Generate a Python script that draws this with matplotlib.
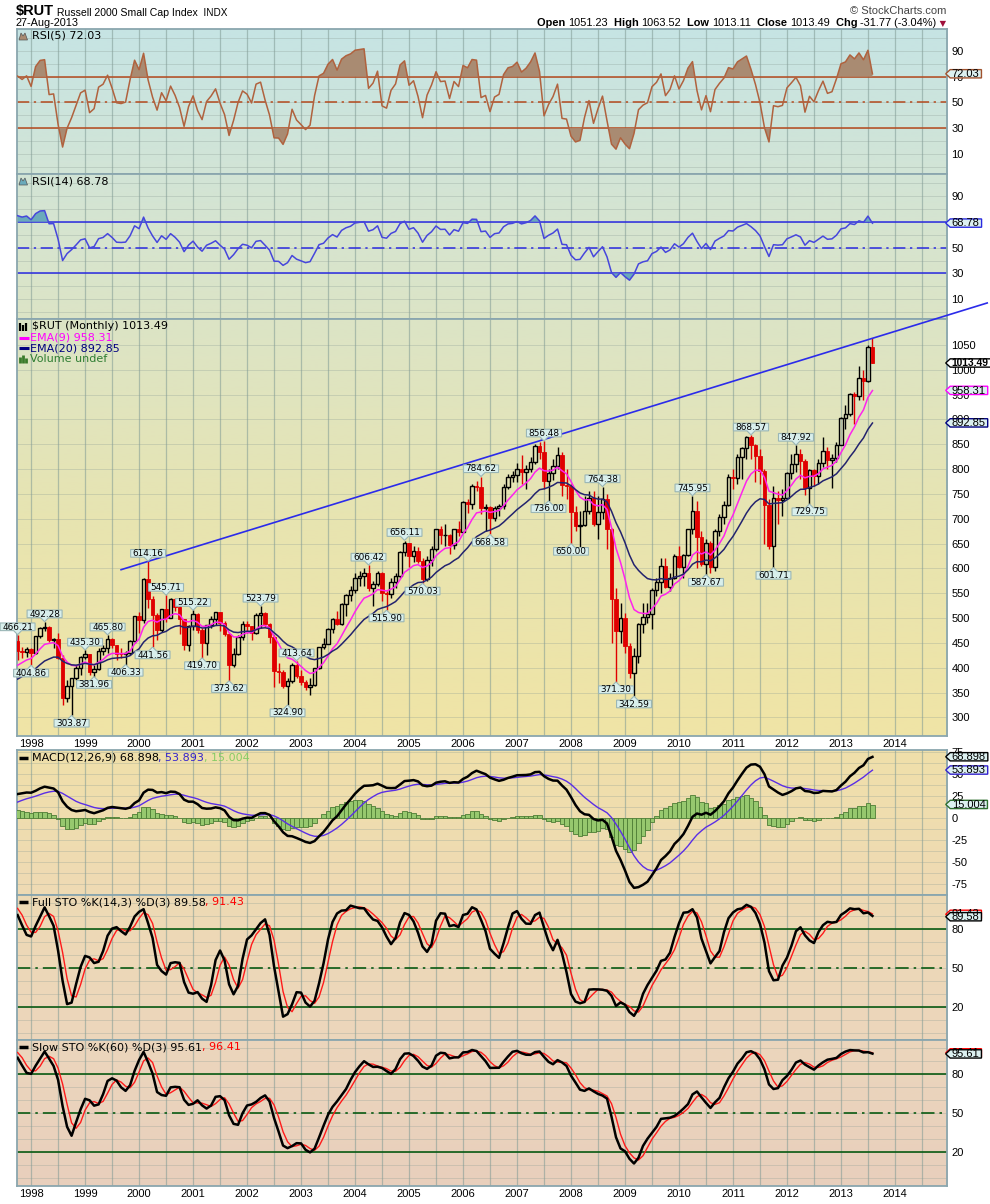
import numpy as np
import pandas as pd
import matplotlib
matplotlib.use("Agg")
import matplotlib.pyplot as plt
from matplotlib.path import Path
from matplotlib.patches import Polygon
from matplotlib.transforms import Affine2D, blended_transform_factory, offset_copy

W, H = 990, 1204

# $RUT monthly bars, Jan 1996 .. Aug 2013 (1996 - Sep 1997 only warms up the indicators)
first_month = "1996-01"
shown_from = "1997-10"

closes = [
    315.38, 325.19, 331.77, 349.49, 363.21, 348.28, 317.95, 336.53, 346.39, 340.57, 354.11, 362.61,  # 1996
    369.46, 359.66, 342.56, 343.00, 381.13, 396.37, 414.48, 423.43, 453.82, 434.04, 431.26, 437.02,  # 1997
    430.05, 463.03, 480.68, 482.89, 456.62, 457.39, 419.75, 337.95, 363.59, 379.23, 399.07, 421.96,  # 1998
    427.22, 392.26, 397.63, 432.81, 438.68, 457.68, 444.77, 428.19, 427.30, 428.64, 454.08, 504.75,  # 1999
    496.23, 577.71, 539.09, 506.25, 476.18, 517.23, 500.64, 537.89, 521.37, 497.68, 445.94, 483.53,  # 2000
    508.34, 475.31, 450.53, 485.32, 497.25, 512.64, 490.00, 468.56, 404.87, 428.17, 461.78, 488.50,  # 2001
    483.10, 469.36, 506.46, 511.03, 488.15, 462.64, 392.42, 391.42, 362.27, 373.88, 406.35, 383.09,  # 2002
    372.17, 360.52, 364.54, 398.68, 441.00, 448.37, 477.61, 497.41, 487.68, 528.22, 546.51, 556.91,  # 2003
    580.76, 585.56, 590.31, 559.80, 568.28, 591.52, 551.29, 547.93, 572.94, 583.79, 633.77, 651.57,  # 2004
    624.02, 634.06, 615.07, 579.38, 616.71, 639.66, 679.75, 666.51, 667.80, 646.61, 679.05, 673.22,  # 2005
    733.20, 730.64, 765.14, 764.54, 721.01, 724.67, 700.56, 721.55, 725.59, 763.69, 783.72, 787.66,  # 2006
    800.34, 793.30, 800.71, 814.57, 847.19, 833.69, 776.13, 792.86, 805.45, 828.02, 767.77, 766.03,  # 2007
    713.30, 686.18, 687.97, 714.99, 741.19, 689.66, 714.52, 739.50, 679.58, 537.52, 473.14, 499.45,  # 2008
    443.53, 389.02, 422.75, 487.56, 501.58, 508.28, 556.71, 572.07, 604.28, 562.77, 579.73, 625.39,  # 2009
    602.04, 627.56, 678.64, 716.60, 662.55, 609.49, 650.89, 602.06, 676.14, 703.35, 727.01, 783.65,  # 2010
    781.28, 823.45, 843.55, 865.29, 848.30, 827.43, 797.03, 726.81, 644.16, 741.06, 737.42, 740.92,  # 2011
    792.82, 810.94, 830.30, 816.88, 761.82, 798.49, 786.94, 812.09, 837.45, 818.73, 821.92, 849.35,  # 2012
    902.09, 911.11, 951.54, 947.46, 984.14, 977.48, 1045.26, 1013.49,                                # 2013
]
highs = [
    316, 330, 334, 352, 364, 364, 350, 338, 347, 347, 355, 364,
    371, 372, 364, 345, 382, 397, 415, 427, 454, 466.21, 441, 441,
    440, 464, 482, 492.28, 484, 460, 470, 425, 376, 380, 405, 423,
    435.30, 428, 405, 440, 445, 465.80, 460, 446, 440, 433, 455, 505,
    512, 580, 614.16, 545, 510, 518, 545.71, 540, 541, 525, 499, 485,
    515.22, 510, 480, 487, 505, 513, 513, 495, 470, 440, 465, 495,
    495, 484, 510, 523.79, 512, 490, 465, 410, 395, 380, 410, 413.64,
    395, 375, 380, 400, 442, 460, 480, 500, 515, 530, 548, 565,
    590, 595, 600, 606.42, 575, 595, 592, 555, 580, 590, 635, 656.11,
    652, 645, 644, 620, 625, 645, 680, 685, 690, 670, 680, 695,
    735, 740, 770, 777, 784.62, 730, 725, 725, 730, 770, 790, 797,
    812, 828, 808, 825, 850, 855, 856.48, 800, 820, 845, 835, 800,
    770, 725, 715, 745, 755, 755, 745, 764.38, 750, 682, 560, 530,
    510, 450, 440, 490, 530, 530, 560, 580, 620, 620, 590, 630,
    645, 630, 680, 745.95, 735, 675, 660, 655, 680, 710, 735, 790,
    800, 830, 845, 866, 868.57, 850, 840, 800, 740, 765, 755, 760,
    795, 830, 847.92, 840, 820, 800, 800, 820, 865, 845, 830, 855,
    905, 930, 953, 955, 1008, 1000, 1050, 1063.52,
]
lows = [
    296, 313, 321, 330, 347, 346, 307, 317, 332, 336, 339, 347,
    359, 356, 341, 335, 342, 378, 394, 411, 423, 416, 420, 421,
    404.86, 428, 459, 473, 452, 439, 418, 325, 330, 303.87, 376, 385,
    417, 386, 381.96, 396, 425, 430, 440, 415, 420, 406.33, 425, 450,
    470, 491, 520, 441.56, 455, 472, 493, 500, 515, 468, 435, 434,
    475, 470, 419.70, 425, 480, 485, 474, 464, 373.62, 402, 425, 455,
    469, 455, 467, 480, 482, 450, 362, 370, 360, 324.90, 370, 380,
    365, 355, 345, 363, 397, 438, 448, 470, 485, 486, 505, 535,
    550, 565, 565, 555, 525, 565, 535, 515.90, 540, 560, 580, 625,
    602, 612, 610, 570.03, 575, 605, 635, 650, 645, 630, 640, 665,
    673, 712, 720, 755, 710, 675, 668.58, 695, 705, 720, 760, 775,
    775, 770, 760, 795, 810, 820, 760, 736.00, 778, 800, 745, 740,
    650.00, 675, 643, 685, 710, 685, 660, 700, 640, 450, 371.30, 450,
    430, 380, 342.59, 410, 470, 490, 478, 545, 550, 560, 555, 578,
    600, 580, 625, 670, 600, 605, 587.67, 590, 595, 665, 690, 725,
    760, 770, 780, 820, 820, 775, 770, 650, 640, 601.71, 690, 705,
    740, 780, 795, 780, 748, 729.75, 765, 770, 805, 800, 762, 815,
    849, 880, 908, 890, 940, 940, 976, 1013.11,
]

# swing labels on the price panel
hi_labels = ["1997-10", "1998-04", "1999-01", "1999-06", "2000-03", "2000-07", "2001-01",
             "2002-04", "2002-12", "2004-04", "2004-12", "2006-05", "2007-07", "2008-08",
             "2010-04", "2011-05", "2012-03"]
lo_labels = ["1998-01", "1998-10", "1999-03", "1999-10", "2000-04", "2001-03", "2001-09",
             "2002-10", "2004-08", "2005-04", "2006-07", "2007-08", "2008-01", "2008-11",
             "2009-03", "2010-07", "2011-10", "2012-06"]
trend_start, trend_touch, trend_end = "1999-09", "2000-03", "2013-08"
trend_extend = 25.5  # months drawn past the last bar

quote = [("Open", "1051.23"), ("High", "1063.52"), ("Low", "1013.11"),
         ("Close", "1013.49"), ("Chg", "-31.77 (-3.04%)")]
last_rsi5, last_rsi14 = "72.03", "68.78"
last_close, last_ema9, last_ema20 = "1013.49", "958.31", "892.85"
last_macd, last_signal, last_hist = "68.898", "53.893", "15.004"
last_fk, last_fd = "89.58", "91.43"
last_sk, last_sd = "95.61", "96.41"
years = list(range(1998, 2015))

# background gradient of the chart, top to bottom (pixel row, rgb)
grad_y = [29, 174, 319, 530, 736, 750, 895, 1040, 1186]
grad_rgb = np.array([(198, 228, 228), (210, 228, 214), (220, 228, 198), (232, 228, 176),
                     (240, 228, 166), (240, 224, 170), (238, 218, 180), (236, 214, 188),
                     (232, 207, 188)], dtype=float)

# ---------------------------------------------------------------- indicators
n = len(closes)
months = pd.period_range(first_month, periods=n, freq="M")
x = np.asarray((months.year - 1998) * 12 + months.month - 1, dtype=float)
c = pd.Series(closes, dtype=float)
hi = pd.Series(highs, dtype=float)
lo = pd.Series(lows, dtype=float)
o = c.shift(1).fillna(c.iloc[0])


def month_idx(m):
    return months.get_loc(pd.Period(m, "M"))


def rsi(s, k):
    d = s.diff()
    gain = d.clip(lower=0).ewm(alpha=1 / k, adjust=False).mean()
    loss = (-d.clip(upper=0)).ewm(alpha=1 / k, adjust=False).mean()
    return 100 - 100 / (1 + gain / loss)


def stoch_raw(k):
    hh = hi.rolling(k, min_periods=1).max()
    ll = lo.rolling(k, min_periods=1).min()
    return 100 * (c - ll) / (hh - ll)


ema9 = c.ewm(span=9, adjust=False).mean()
ema20 = c.ewm(span=20, adjust=False).mean()
rsi5, rsi14 = rsi(c, 5), rsi(c, 14)
macd = c.ewm(span=12, adjust=False).mean() - c.ewm(span=26, adjust=False).mean()
signal = macd.ewm(span=9, adjust=False).mean()
hist = macd - signal
full_k = stoch_raw(14).rolling(3, min_periods=1).mean()
full_d = full_k.rolling(3, min_periods=1).mean()
slow_k = stoch_raw(60).rolling(3, min_periods=1).mean()
slow_d = slow_k.rolling(3, min_periods=1).mean()

show = np.arange(n) >= month_idx(shown_from)
xs = x[show]


def sv(s):
    return np.asarray(s, dtype=float)[show]


# ---------------------------------------------------------------- figure
fig = plt.figure(figsize=(W / 100, H / 100), dpi=100)
fig.patch.set_facecolor("white")
px = Affine2D().scale(1 / W, -1 / H).translate(0, 1) + fig.transFigure
LEFT, RIGHT = 16.7, 946.7
XMIN, XMAX = -3.2, 203.5


def panel(top, bot, ylim, yticks, ygrid, xlabels=False):
    ax = fig.add_axes([LEFT / W, 1 - bot / H, (RIGHT - LEFT) / W, (bot - top) / H])
    rows = np.linspace(top, bot, 96)
    rgb = np.stack([np.interp(rows, grad_y, grad_rgb[:, k]) for k in range(3)], axis=1) / 255
    ax.imshow(rgb[:, None, :], extent=(0, 1, 0, 1), transform=ax.transAxes,
              aspect="auto", interpolation="bilinear", zorder=0)
    ax.set_xlim(XMIN, XMAX)
    ax.set_ylim(*ylim)
    ax.set_xticks(np.arange(0, 193, 12))
    ax.set_xticks(np.arange(6, 199, 12), minor=True)
    ax.set_xticklabels([str(y) for y in years] if xlabels else [])
    ax.set_yticks(yticks)
    ax.set_yticklabels([f"{t:g}" for t in yticks])
    ax.set_yticks(ygrid, minor=True)
    ax.set_axisbelow(True)
    ax.grid(axis="x", which="both", color="#7f9a94", alpha=0.55, lw=0.9)
    ax.grid(axis="y", which="both", color="#8a9c94", alpha=0.3, lw=0.7)
    ax.tick_params(which="both", length=0, left=False, labelleft=False,
                   labelright=True, labelsize=8, pad=3.3, labelfontfamily="Liberation Sans")
    ax.tick_params(axis="x", labelbottom=xlabels, pad=2.5, labelsize=8)
    for sp in ax.spines.values():
        sp.set_color("#8aa6ae")
        sp.set_linewidth(1.3)
    return ax


def tag_box(x0, y0, width, height, mutation_size):
    left, right = x0 - 1.5, x0 + width + 2
    bot, top = y0 + 0.1 * height, y0 + 0.93 * height
    return Path([(left, bot), (right, bot), (right, top), (left, top),
                 (left - 4.5, (bot + top) / 2), (left, bot)], closed=True)


def tag(ax, text, ec, fc="#dcf0f0", bold=False):
    tr = offset_copy(blended_transform_factory(ax.transAxes, ax.transData),
                     fig=fig, x=5, y=0, units="dots")
    ax.text(1, float(text), text, transform=tr, ha="left", va="center",
            fontsize=7.4 if bold else 8, family="Liberation Sans",
            fontweight="bold" if bold else "normal",
            clip_on=False, zorder=12, bbox=dict(boxstyle=tag_box, fc=fc, ec=ec, lw=1))


def label_box(down):
    def f(x0, y0, width, height, mutation_size):
        l, r = x0 - 2, x0 + width + 2
        b, t = y0 + 0.1 * height, y0 + 0.95 * height
        cx = (l + r) / 2
        if down:
            v = [(l, b), (cx - 4, b), (cx, b - 4), (cx + 4, b), (r, b), (r, t), (l, t)]
        else:
            v = [(l, b), (r, b), (r, t), (cx + 4, t), (cx, t + 4), (cx - 4, t), (l, t)]
        return Path(v + [v[0]], closed=True)
    return f


def level_lines(ax, levels, color, lw=1.1):
    for lv, ls in levels:
        ax.axhline(lv, color=color, lw=lw, ls=ls, zorder=2)


# ---------------------------------------------------------------- RSI(5)
ax1 = panel(29.3, 174, (-5.5, 106.6), [10, 30, 50, 70, 90], np.arange(0, 101, 10))
level_lines(ax1, [(70, "-"), (30, "-"), (50, (0, (8, 3, 1.5, 3)))], "#b44a1e")
r5 = sv(rsi5)
ax1.fill_between(xs, r5, 70, where=r5 >= 70, interpolate=True, color="#a98b72", lw=0, zorder=3)
ax1.fill_between(xs, r5, 30, where=r5 <= 30, interpolate=True, color="#a98b72", lw=0, zorder=3)
ax1.plot(xs, r5, color="#b0623e", lw=1.1, zorder=4)
tag(ax1, last_rsi5, "#a0522d")

# ---------------------------------------------------------------- RSI(14)
ax2 = panel(174, 319.3, (-5.4, 106.8), [10, 30, 50, 70, 90], np.arange(0, 101, 10))
level_lines(ax2, [(70, "-"), (30, "-"), (50, (0, (8, 3, 1.5, 3)))], "#2a2ae0")
r14 = sv(rsi14)
ax2.fill_between(xs, r14, 70, where=r14 >= 70, interpolate=True, color="#6aaabb", lw=0, zorder=3)
ax2.fill_between(xs, r14, 30, where=r14 <= 30, interpolate=True, color="#6aaabb", lw=0, zorder=3)
ax2.plot(xs, r14, color="#4646dc", lw=1.1, zorder=4)
tag(ax2, last_rsi14, "#2a2ae0")

# ---------------------------------------------------------------- price
ax3 = panel(319.3, 735.7, (263, 1101.8), np.arange(300, 1051, 50), np.arange(300, 1051, 50), xlabels=True)
oo, cc, hh, ll = sv(o), sv(c), sv(hi), sv(lo)
up = cc >= oo
b_lo, b_hi = np.minimum(oo, cc), np.maximum(oo, cc)
ax3.vlines(xs[up], b_hi[up], hh[up], color="black", lw=1, zorder=4)
ax3.vlines(xs[up], ll[up], b_lo[up], color="black", lw=1, zorder=4)
ax3.bar(xs[up], (b_hi - b_lo)[up], bottom=b_lo[up], width=0.72, facecolor="none",
        edgecolor="black", lw=1, zorder=5)
ax3.vlines(xs[~up], ll[~up], hh[~up], color="#e00000", lw=1, zorder=4)
ax3.bar(xs[~up], (b_hi - b_lo)[~up], bottom=b_lo[~up], width=0.72, color="#e00000",
        edgecolor="#e00000", lw=0.6, zorder=5)
ax3.plot(xs, sv(ema9), color="#ff22ee", lw=1.1, zorder=6)
ax3.plot(xs, sv(ema20), color="#23236e", lw=1.1, zorder=6)

i0, i1 = month_idx(trend_touch), month_idx(trend_end)
slope = (highs[i1] - highs[i0]) / (x[i1] - x[i0])
tx = np.array([x[month_idx(trend_start)], x[i1] + trend_extend])
ax3.plot(tx, highs[i0] + slope * (tx - x[i0]), color="#2b2bea", lw=1.2, zorder=7, clip_on=False)

for m in hi_labels:
    i = month_idx(m)
    ax3.annotate(f"{highs[i]:.2f}", xy=(x[i], highs[i]), xytext=(0, 3.3), textcoords="offset pixels",
                 ha="center", va="bottom", fontsize=6.4, zorder=9, annotation_clip=False,
                 bbox=dict(boxstyle=label_box(True), fc="#d9efec", ec="#9ab6b6", lw=0.8))
for m in lo_labels:
    i = month_idx(m)
    ax3.annotate(f"{lows[i]:.2f}", xy=(x[i], lows[i]), xytext=(0, -3.5), textcoords="offset pixels",
                 ha="center", va="top", fontsize=6.4, zorder=9, annotation_clip=False,
                 bbox=dict(boxstyle=label_box(False), fc="#d9efec", ec="#9ab6b6", lw=0.8))
tag(ax3, last_close, "black", fc="white", bold=True)
tag(ax3, last_ema9, "#ff00ff")
tag(ax3, last_ema20, "#000080")

# ---------------------------------------------------------------- MACD
ax4 = panel(750, 895.3, (-86.5, 76.7), np.arange(-75, 76, 25), np.arange(-87.5, 80, 12.5))
ax4.bar(xs, sv(hist), width=1.0, fc="#96c86e", ec="#4d7d35", lw=0.6, zorder=3)
ax4.plot(xs, sv(signal), color="#5a2ee6", lw=1.0, zorder=4)
ax4.plot(xs, sv(macd), color="black", lw=1.8, zorder=5)
tag(ax4, last_macd, "black")
tag(ax4, last_signal, "#3322cc")
tag(ax4, last_hist, "#2e6e2e")

# ---------------------------------------------------------------- stochastics
sto_levels = [(80, "-"), (20, "-"), (50, (0, (8, 3, 1.5, 3)))]
ax5 = panel(895.3, 1040.3, (-5.4, 106.2), [20, 50, 80], np.arange(0, 101, 10))
level_lines(ax5, sto_levels, "#0a5a12", lw=1.2)
ax5.plot(xs, sv(full_d), color="#ff1a1a", lw=1.0, zorder=4)
ax5.plot(xs, sv(full_k), color="black", lw=1.8, zorder=5)
tag(ax5, last_fd, "#ff0000")
tag(ax5, last_fk, "black")

ax6 = panel(1040.3, 1185.7, (-5.7, 106.2), [20, 50, 80], np.arange(0, 101, 10), xlabels=True)
level_lines(ax6, sto_levels, "#0a5a12", lw=1.2)
ax6.plot(xs, sv(slow_d), color="#ff1a1a", lw=1.0, zorder=4)
ax6.plot(xs, sv(slow_k), color="black", lw=1.8, zorder=5)
tag(ax6, last_sd, "#ff0000")
tag(ax6, last_sk, "black")

# ---------------------------------------------------------------- texts
ov = fig.add_axes([0, 0, 1, 1])
ov.axis("off")
ov.set_zorder(30)
ov.set_xlim(0, 1)
ov.set_ylim(0, 1)


def chain(x0, y0, parts, size=8, family="DejaVu Sans"):
    prev = None
    for part in parts:
        s, color, weight = part[:3]
        kw = dict(fontsize=part[3] if len(part) > 3 else size, family=family,
                  color=color, fontweight=weight, ha="left")
        if prev is None:
            prev = ov.annotate(s, xy=(x0, y0), xycoords=px, va="center", **kw)
        else:
            prev = ov.annotate(s, xy=(1, 0), xycoords=prev, va="bottom", **kw)
    return prev


chain(16, 11, [("$RUT", "black", "bold", 10.5),
               (" Russell 2000 Small Cap Index", "black", "normal", 7.6),
               ("  INDX", "black", "normal", 7.2)], family="Liberation Sans")
ov.text(16, 23.5, "27-Aug-2013", transform=px, fontsize=7.8, family="Liberation Sans", va="center")
ov.text(946, 10.5, "\u00a9 StockCharts.com", transform=px, fontsize=8, family="Liberation Sans",
        color="#444444", va="center", ha="right")
qparts = []
for k, (key, val) in enumerate(quote):
    qparts.append((("  " if k else "") + key + " ", "black", "bold"))
    qparts.append((val, "black", "normal"))
last = chain(537, 23.5, qparts, size=7.9, family="Liberation Sans")
ov.annotate(" \u25bc", xy=(1, 0), xycoords=last, va="bottom", ha="left", fontsize=6,
            color="#a0103a", family="DejaVu Sans")


def mountain(y, color):
    ov.add_patch(Polygon([(19, y + 4), (21, y - 3), (23, y), (25, y - 3), (27.5, y + 4)],
                         closed=True, transform=px, fc=color, ec="#555555", lw=0.5))


mountain(36, "#a98b72")
chain(31.5, 36, [("RSI(5) " + last_rsi5, "black", "normal")])
mountain(181, "#6aaabb")
chain(31.5, 181, [("RSI(14) " + last_rsi14, "black", "normal")])
chain(31.5, 326.3, [("$RUT (Monthly) " + last_close, "black", "normal")])
ov.vlines([20, 23, 26], [330.5, 330.5, 330.5], [322.5, 324.5, 322.5], transform=px, color="black", lw=1.6)
ov.plot([19, 29], [337.7, 337.7], transform=px, color="#ff00ff", lw=2.2, solid_capstyle="butt")
chain(29.5, 337.7, [("EMA(9) " + last_ema9, "#ff00ff", "normal")])
ov.plot([19, 29], [348.3, 348.3], transform=px, color="#000080", lw=2.2, solid_capstyle="butt")
chain(29.5, 348.3, [("EMA(20) " + last_ema20, "#000080", "normal")])
ov.vlines([20, 23, 26], [363, 363, 363], [357, 355, 358], transform=px, color="#3a7a2a", lw=2)
chain(29.5, 358.7, [("Volume undef", "#2e7d32", "normal")])

for yy in (757.7, 902.3, 1047.3):
    ov.plot([19, 27.5], [yy, yy], transform=px, color="black", lw=2.5, solid_capstyle="butt")
chain(31.5, 757.7, [("MACD(12,26,9) " + last_macd, "black", "normal"),
                    (", " + last_signal, "#3322cc", "normal"),
                    (", " + last_hist, "#88cc66", "normal")])
chain(31.5, 902.3, [("Full STO %K(14,3) %D(3) " + last_fk, "black", "normal"),
                    (", " + last_fd, "#ff0000", "normal")])
chain(31.5, 1047.3, [("Slow STO %K(60) %D(3) " + last_sk, "black", "normal"),
                     (", " + last_sd, "#ff0000", "normal")])

fig.savefig("out.png", dpi=100)
